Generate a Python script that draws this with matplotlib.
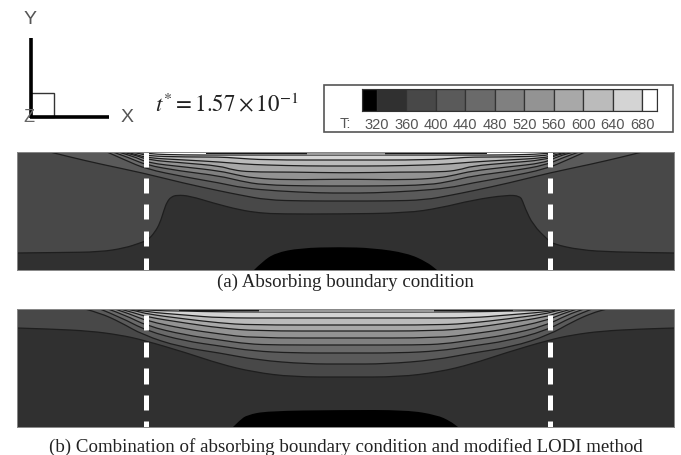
import matplotlib
matplotlib.use('Agg')
import matplotlib.pyplot as plt
from matplotlib.patches import Rectangle, PathPatch
from matplotlib.path import Path

plt.rcParams['font.family'] = ['Liberation Sans', 'DejaVu Sans']
plt.rcParams['mathtext.fontset'] = 'stix'

W, H = 681, 455

# legend
t_edges = [300, 320, 360, 400, 440, 480, 520, 560, 600, 640, 680, 700]
t_ticks = [320, 360, 400, 440, 480, 520, 560, 600, 640, 680]
t_colors = ['#000000', '#303030', '#484848', '#5a5a5a', '#6a6a6a', '#808080',
            '#939393', '#a8a8a8', '#bbbbbb', '#d4d4d4', '#ffffff']

# contour lines, read in image pixels. left half only except a360
a360 = [(17, 253), (60, 252.5), (100, 252), (125, 248), (140, 243), (148, 240), (155, 232),
        (160, 223), (164, 210), (167, 202), (171, 197), (177, 195), (190, 196), (213, 203),
        (240, 210), (260, 213), (280, 214), (340, 214), (407, 213), (440, 208), (473, 200),
        (507, 195), (520, 196), (523, 202), (525, 208), (533, 225), (548, 240), (553, 244),
        (580, 250), (613, 252), (674, 253)]
a400 = [(50, 152), (70, 157), (100, 164), (143, 173), (183, 183), (220, 191), (240, 195),
        (267, 200), (303, 201), (346, 201)]
a440 = [(107, 152), (125, 160), (146, 169), (185, 177), (220, 183), (243, 188), (277, 191),
        (320, 193), (346, 193)]
a480 = [(113, 152), (130, 158), (146, 165), (180, 171), (220, 176), (240, 181), (263, 185),
        (313, 186), (346, 186)]
a520 = [(118, 152), (133, 156), (148, 163), (185, 167), (220, 171), (237, 175), (253, 178),
        (287, 180), (346, 179)]
a560 = [(122, 152), (135, 155), (148, 160), (185, 163), (220, 166), (233, 170), (250, 172),
        (290, 172), (346, 173)]
a600 = [(126, 152), (138, 155), (148, 158), (185, 160), (220, 162), (243, 164), (265, 165),
        (307, 166), (346, 166)]
a640 = [(130, 152), (140, 153.5), (148, 156), (185, 157), (220, 157), (235, 158), (265, 160),
        (346, 160)]
a680 = [(135, 152), (148, 154), (185, 155), (220, 155), (265, 155), (346, 155)]
a_black = [(254, 270), (262, 262), (275, 253), (300, 248), (340, 247), (373, 248), (407, 253),
           (427, 262), (437, 270)]

b360 = [(17, 328), (50, 329), (90, 331), (120, 335), (143, 340), (187, 353), (220, 364),
        (253, 372), (293, 377), (346, 377)]
b400 = [(85, 309), (100, 313), (120, 322), (143, 335), (180, 347), (220, 353), (257, 360),
        (307, 364), (346, 364)]
b440 = [(100, 309), (120, 317), (147, 331), (185, 341), (220, 346), (253, 351), (293, 353),
        (346, 353)]
b480 = [(108, 309), (125, 315), (147, 326), (185, 335), (220, 340), (248, 344), (275, 345),
        (346, 345)]
b520 = [(115, 309), (130, 314), (147, 321), (185, 329), (220, 334), (253, 338), (346, 338)]
b560 = [(120, 309), (135, 313), (147, 317), (185, 323), (220, 328), (257, 331), (346, 331)]
b600 = [(125, 309), (137, 311), (147, 314), (185, 319), (220, 323), (250, 325), (346, 325)]
b640 = [(130, 309), (147, 312), (185, 315), (220, 318), (282, 318), (346, 318)]
b680 = [(136, 309), (147, 310.5), (185, 311), (220, 312), (346, 312)]
b_black = [(233, 427), (240, 420), (247, 415), (267, 411), (340, 410), (407, 410), (437, 415),
           (450, 421), (458, 427)]

a_dash_starts = [152, 178, 204, 231, 258]
a_dash_ends = [167, 193, 219, 246, 270]
b_dash_starts = [315, 342, 368, 395, 421]
b_dash_ends = [330, 357, 384, 410, 427]
dash_x = [146, 550]

levels_above = ['#5a5a5a', '#6a6a6a', '#808080', '#939393', '#a8a8a8', '#bbbbbb', '#d4d4d4', '#ffffff']


def full(half):
    # profile is about symmetric around x=346
    right = [(692 - x, y) for x, y in reversed(half[:-1])]
    return half + right


def px_axes(left, top, right, bottom):
    return plt.gcf().add_axes([left / W, 1 - bottom / H, (right - left) / W, (bottom - top) / H])


def curve(points):
    # quadratic curve through the midpoints so the contours are not polygons
    verts = [points[0]]
    codes = [Path.MOVETO]
    for i in range(1, len(points) - 1):
        mid = ((points[i][0] + points[i + 1][0]) / 2, (points[i][1] + points[i + 1][1]) / 2)
        verts += [points[i], mid]
        codes += [Path.CURVE3, Path.CURVE3]
    verts.append(points[-1])
    codes.append(Path.LINETO)
    return verts, codes


def closed(points, y_end):
    # same curve, shut along the y_end edge of the panel
    verts, codes = curve(points)
    verts += [(points[-1][0], y_end), (points[0][0], y_end), points[0]]
    codes += [Path.LINETO, Path.LINETO, Path.CLOSEPOLY]
    return Path(verts, codes)


def draw_panel(top, bottom, lines, blob, black_tops, grey_top, starts, ends):
    ax = px_axes(17, top, 674, bottom)
    ax.set_xlim(17, 674)
    ax.set_ylim(bottom, top)
    ax.set_facecolor('#303030')
    for line, col in zip(lines, ['#484848'] + levels_above):
        ax.add_patch(PathPatch(closed(line, top), fc=col, ec='none'))
        verts, codes = curve(line)
        ax.add_patch(PathPatch(Path(verts, codes), fc='none', ec='#1e1e1e', lw=0.9))
    ax.add_patch(PathPatch(closed(blob, bottom), fc='black', ec='none'))
    for x0, x1 in black_tops:
        ax.plot([x0, x1], [top + 1, top + 1], color='#111111', lw=1.4)
    ax.plot(grey_top, [top + 1, top + 1], color='#999999', lw=2.2)
    for x in dash_x:
        ax.vlines([x] * len(starts), starts, ends, color='white', lw=3.6)
    ax.set_xticks([])
    ax.set_yticks([])
    for s in ax.spines.values():
        s.set_color('#888888')
        s.set_linewidth(0.7)
    return ax


fig = plt.figure(figsize=(W / 100, H / 100), dpi=100, facecolor='white')

# canvas for the loose stuff
bg = fig.add_axes([0, 0, 1, 1])
bg.set_xlim(0, W)
bg.set_ylim(H, 0)
bg.axis('off')

# axis triad
bg.text(29, 118, 'Z', ha='center', va='center', fontsize=13, color='#666666')
bg.plot([30.5, 30.5], [38, 118], color='black', lw=2.6, solid_capstyle='butt')
bg.plot([30, 109], [117, 117], color='black', lw=2.6, solid_capstyle='butt')
bg.add_patch(Rectangle((31, 93), 23, 24, fill=False, ec='#333333', lw=1))
bg.text(30, 20, 'Y', ha='center', va='center', fontsize=14, color='#555555')
bg.text(127, 118, 'X', ha='center', va='center', fontsize=14, color='#555555')

bg.text(155, 105, r'$t^{*}=1.57\times10^{-1}$', ha='left', va='center', fontsize=16.5, color='#222222')

# legend frame
bg.add_patch(Rectangle((324, 85), 349, 47, fill=False, ec='#555555', lw=1.2))
bg.text(340, 124, 'T:', ha='left', va='center', fontsize=10.5, color='#555555')

cax = px_axes(362, 89, 657, 111)
widths = [t_edges[i + 1] - t_edges[i] for i in range(len(t_colors))]
cax.bar(t_edges[:-1], [1] * len(t_colors), width=widths, align='edge', color=t_colors,
        edgecolor='#333333', lw=0.9)
cax.set_xlim(t_edges[0], t_edges[-1])
cax.set_ylim(0, 1)
cax.set_yticks([])
cax.set_xticks(t_ticks)
cax.set_xticklabels(t_ticks, fontsize=10.5, color='#555555')
cax.tick_params(axis='x', length=0, pad=5)
for s in cax.spines.values():
    s.set_color('#333333')

# panels
lines_a = [a360] + [full(c) for c in [a400, a440, a480, a520, a560, a600, a640, a680]]
lines_b = [full(b360)] + [full(c) for c in [b400, b440, b480, b520, b560, b600, b640, b680]]
draw_panel(152, 270, lines_a, a_black, [(207, 308), (383, 486)], [308, 383],
           a_dash_starts, a_dash_ends)
draw_panel(309, 427, lines_b, b_black, [(180, 260), (432, 512)], [260, 432],
           b_dash_starts, b_dash_ends)

bg.text(345.5, 282, '(a) Absorbing boundary condition', ha='center', va='center',
        fontsize=13.6, family='Liberation Serif', color='#222222')
bg.text(345.5, 447, '(b) Combination of absorbing boundary condition and modified LODI method',
        ha='center', va='center', fontsize=13.6, family='Liberation Serif', color='#222222')

fig.savefig('out.png', dpi=100)
